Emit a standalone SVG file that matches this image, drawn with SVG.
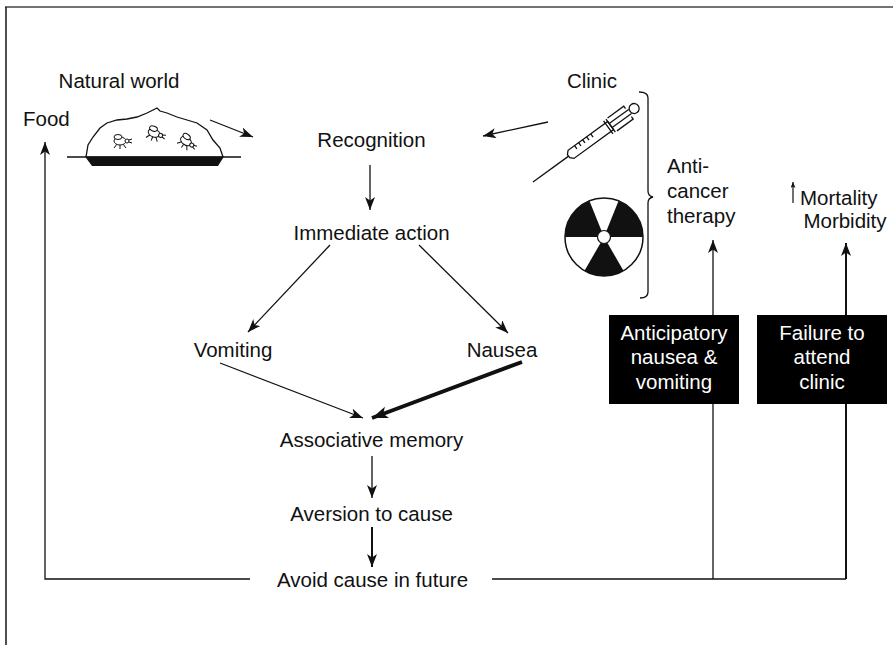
<svg xmlns="http://www.w3.org/2000/svg" width="893" height="645" viewBox="0 0 893 645">
<defs>
<style>
text{font-family:"Liberation Sans",Arial,Helvetica,sans-serif;font-size:20.5px;fill:#111}
.c{text-anchor:middle}
.w{fill:#fff}
.ln{stroke:#111;stroke-width:1.3;fill:none}
.ln2{stroke:#111;stroke-width:2;fill:none}
.bug{stroke:#111;stroke-width:1;fill:#fff}
</style>
<marker id="ah" markerUnits="userSpaceOnUse" markerWidth="14" markerHeight="11" refX="13" refY="5" orient="auto">
<path d="M0,0 L13,5 L0,10 L3.5,5 Z" fill="#111"/>
</marker>
<marker id="ahT" markerUnits="userSpaceOnUse" markerWidth="17" markerHeight="13" refX="16" refY="6" orient="auto">
<path d="M0,0 L16,6 L0,12 L4,6 Z" fill="#111"/>
</marker>
<marker id="ahS" markerUnits="userSpaceOnUse" markerWidth="7" markerHeight="6" refX="6" refY="2.5" orient="auto">
<path d="M0,0 L6,2.5 L0,5 L1.5,2.5 Z" fill="#111"/>
</marker>
<g id="bugshape">
<line x1="-3" y1="3" x2="-6" y2="7" class="bug"/>
<line x1="0" y1="4" x2="0" y2="8" class="bug"/>
<line x1="3" y1="3" x2="6" y2="7" class="bug"/>
<line x1="6" y1="0" x2="12" y2="-2" class="bug"/>
<line x1="6" y1="0" x2="12" y2="2" class="bug"/>
<ellipse cx="0" cy="0" rx="6" ry="4" class="bug"/>
<ellipse cx="-2" cy="-4" rx="4" ry="2.5" class="bug"/>
<circle cx="7" cy="0" r="2" class="bug"/>
</g>
</defs>
<rect width="893" height="645" fill="#fff"/>
<g id="frame">
<line x1="5" y1="7" x2="893" y2="7" stroke="#444" stroke-width="1.6"/>
<line x1="6" y1="7" x2="6" y2="645" stroke="#222" stroke-width="1.6"/>
</g>

<g id="natural-world">
<text x="119" y="88" class="c">Natural world</text>
<line x1="67" y1="157" x2="241" y2="157" class="ln"/>
<polygon points="85,156.5 224,156.5 218,166 92,166" fill="#111"/>
<path d="M86,157 L88,145 L93,137 L100,128 L107,123 L117,120 L127,119 L137,117 L147,113 L153,110 L157,108 L160,111 L167,113 L177,117 L187,120 L197,123 L207,130 L213,140 L220,148 L223,157" class="ln"/>
<use href="#bugshape" transform="translate(120,141)"/>
<use href="#bugshape" transform="translate(154,133) rotate(20)"/>
<use href="#bugshape" transform="translate(186,141) rotate(35)"/>
</g>
<g id="food"><text x="23" y="126">Food</text></g>
<g id="clinic">
<text x="592" y="88" class="c">Clinic</text>
<g transform="translate(533,182) rotate(-36)">
<line x1="0" y1="0" x2="44" y2="0" class="ln"/>
<path d="M44,-2 L47,-5 L96,-5 L96,5 L47,5 L44,2 Z" class="ln" fill="#fff"/>
<path d="M55,-5 V-1 M60,-5 V-1 M65,-5 V-1 M70,-5 V-1 M75,-5 V-1" class="ln"/>
<path d="M93,-8 V8 M96,-8 V8" class="ln"/>
<path d="M96,-2.5 H120 M96,2.5 H120" class="ln"/>
<path d="M98,-8 H118 V-5 M98,8 H118 V5" class="ln"/>
<circle cx="125" cy="0" r="5" class="ln" fill="#fff"/>
</g>
<g id="radiation">
<circle cx="604" cy="237" r="39" fill="#fff" stroke="#111" stroke-width="1.5"/>
<path d="M604,237 L643,237 A39,39 0 0 0 618.6,200.8 Z" fill="#111"/>
<path d="M604,237 L589.4,200.8 A39,39 0 0 0 565,237 Z" fill="#111"/>
<path d="M604,237 L584.5,270.8 A39,39 0 0 0 623.5,270.8 Z" fill="#111"/>
<circle cx="604" cy="237" r="6.5" fill="#fff" stroke="#111" stroke-width="1.2"/>
</g>
<path d="M639,92 Q648,92 648,98 L648,191 Q648,196 653,197 Q648,198 648,203 L648,292 Q648,298 640,298" class="ln" stroke-width="1.6"/>
</g>
<g id="therapy">
<text x="667" y="173">Anti-</text>
<text x="667" y="198">cancer</text>
<text x="667" y="223">therapy</text>
</g>
<g id="mortality">
<text x="800" y="205">Mortality</text>
<text x="845" y="228" class="c">Morbidity</text>
</g>
<g id="recognition"><text x="371.5" y="147" class="c">Recognition</text></g>
<g id="immediate"><text x="371.5" y="240" class="c">Immediate action</text></g>
<g id="vomiting"><text x="233" y="357" class="c">Vomiting</text></g>
<g id="nausea"><text x="502" y="357" class="c">Nausea</text></g>
<g id="associative"><text x="371.5" y="447" class="c">Associative memory</text></g>
<g id="aversion"><text x="371.5" y="521" class="c">Aversion to cause</text></g>
<g id="avoid"><text x="372.5" y="587" class="c">Avoid cause in future</text></g>

<g id="connectors">
<line x1="210" y1="120" x2="253" y2="137" class="ln" marker-end="url(#ah)"/>
<line x1="548" y1="122" x2="483" y2="136" class="ln" marker-end="url(#ah)"/>
<line x1="370" y1="165" x2="370" y2="210" class="ln" marker-end="url(#ah)"/>
<line x1="330" y1="245" x2="248" y2="332" class="ln" marker-end="url(#ah)"/>
<line x1="419" y1="245" x2="508" y2="333" class="ln" marker-end="url(#ah)"/>
<line x1="220" y1="363" x2="363" y2="418" class="ln" marker-end="url(#ah)"/>
<line x1="522" y1="362" x2="372" y2="418" stroke="#111" stroke-width="4" marker-end="url(#ahT)"/>
<line x1="372" y1="456" x2="372" y2="498" class="ln" marker-end="url(#ah)"/>
<line x1="372" y1="527" x2="372" y2="567" class="ln2" marker-end="url(#ah)"/>
<polyline points="250,579 45,579 45,142" class="ln" marker-end="url(#ah)"/>
<line x1="492" y1="579" x2="846" y2="579" class="ln"/>
<line x1="713" y1="579" x2="713" y2="240" class="ln" marker-end="url(#ah)"/>
<line x1="846" y1="579" x2="846" y2="243" class="ln2" marker-end="url(#ah)"/>
<line x1="793" y1="203" x2="793" y2="182" stroke="#111" stroke-width="1.2" marker-end="url(#ahS)"/>
</g>

<g id="anticipatory">
<rect x="609" y="315" width="130" height="89" fill="#000"/>
<text x="674" y="340" class="c w">Anticipatory</text>
<text x="674" y="364" class="c w">nausea &amp;</text>
<text x="674" y="389" class="c w">vomiting</text>
</g>
<g id="failure">
<rect x="757" y="315" width="130" height="89" fill="#000"/>
<text x="822" y="340" class="c w">Failure to</text>
<text x="822" y="364" class="c w">attend</text>
<text x="822" y="389" class="c w">clinic</text>
</g>
</svg>
